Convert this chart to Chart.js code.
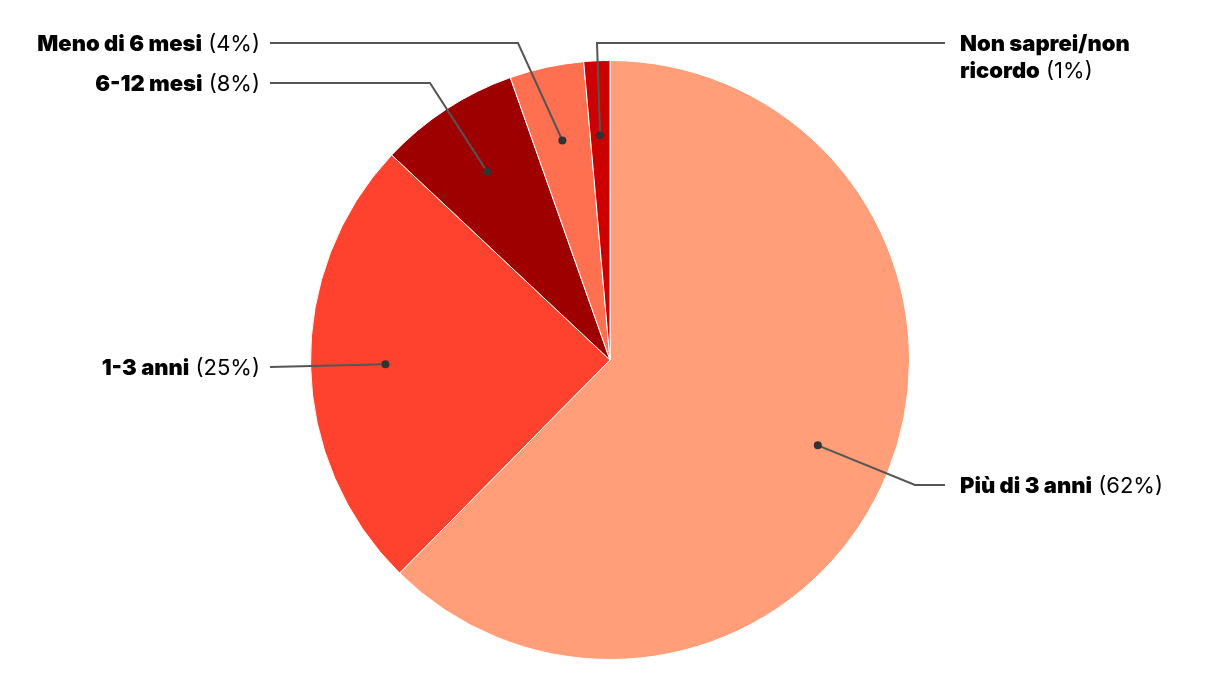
<!DOCTYPE html>
<html>
<head>
<meta charset="utf-8">
<script src="https://cdn.jsdelivr.net/npm/chart.js@4/dist/chart.umd.min.js"></script>
<style>
  html, body { margin: 0; padding: 0; background: #fff; }
  #wrap { width: 1220px; height: 700px; }
</style>
</head>
<body>
<div id="wrap"><canvas id="pie"></canvas></div>
<script>
// Data
const categories = ["Più di 3 anni", "1-3 anni", "6-12 mesi", "Meno di 6 mesi", "Non saprei/non ricordo"];
const values = [62.4, 24.6, 7.6, 4.0, 1.4];
const sliceColors = ["#FF9E78", "#FF422E", "#9E0000", "#FF7050", "#CC0000"];

// Where each label's leader line bends, relative to the pie centre
const labelLayout = [
  { side: "right", elbow: [305, 125], lines: ["Più di 3 anni"] },
  { side: "left", elbow: [-340, 7], lines: ["1-3 anni"] },
  { side: "left", elbow: [-180, -277], lines: ["6-12 mesi"] },
  { side: "left", elbow: [-92, -317], lines: ["Meno di 6 mesi"] },
  { side: "right", elbow: [-13, -317], lines: ["Non saprei/non", "ricordo"] },
];

const FONT = "Inter, 'Noto Sans', sans-serif";

// Draws leader lines, dots and labels outside the pie
const leaderLabels = {
  id: "leaderLabels",
  afterDatasetsDraw(chart) {
    const ctx = chart.ctx;
    const meta = chart.getDatasetMeta(0);
    meta.data.forEach((arc, i) => {
      const { x, y, startAngle, endAngle, outerRadius } = arc.getProps(["x", "y", "startAngle", "endAngle", "outerRadius"], true);
      const mid = (startAngle + endAngle) / 2;
      const dx = x + Math.cos(mid) * outerRadius * 0.75;
      const dy = y + Math.sin(mid) * outerRadius * 0.75;
      const cfg = labelLayout[i];
      const ex = x + cfg.elbow[0];
      const ey = y + cfg.elbow[1];
      const endX = cfg.side === "left" ? x - 340 : x + 335;
      const textX = cfg.side === "left" ? x - 350 : x + 350;

      ctx.save();
      ctx.strokeStyle = "#555";
      ctx.lineWidth = 2;
      ctx.beginPath();
      ctx.moveTo(dx, dy);
      ctx.lineTo(ex, ey);
      ctx.lineTo(endX, ey);
      ctx.stroke();

      ctx.fillStyle = "#333";
      ctx.beginPath();
      ctx.arc(dx, dy, 4, 0, Math.PI * 2);
      ctx.fill();

      // text: bold name, regular percentage on the last line
      const pct = " (" + Math.round(values[i]) + "%)";
      const boldFont = "900 22px " + FONT;
      const normFont = "400 22px " + FONT;
      ctx.fillStyle = "#000";
      ctx.textBaseline = "middle";
      ctx.textAlign = "left";
      cfg.lines.forEach((line, k) => {
        const ly = ey + 1 + k * 27;
        const last = k === cfg.lines.length - 1;
        ctx.font = boldFont;
        const wBold = ctx.measureText(line).width;
        ctx.font = normFont;
        const wPct = last ? ctx.measureText(pct).width : 0;
        const startX = cfg.side === "left" ? textX - wBold - wPct : textX;
        ctx.font = boldFont;
        ctx.fillText(line, startX, ly);
        if (last) {
          ctx.font = normFont;
          ctx.fillText(pct, startX + wBold, ly);
        }
      });
      ctx.restore();
    });
  },
};

new Chart(document.getElementById("pie"), {
  type: "pie",
  data: {
    labels: categories,
    datasets: [{
      data: values,
      backgroundColor: sliceColors,
      borderColor: "#fff",
      borderWidth: 1,
    }],
  },
  options: {
    responsive: true,
    maintainAspectRatio: false,
    animation: false,
    layout: { padding: { top: 60, bottom: 40 } },
    plugins: {
      legend: { display: false },
      tooltip: { enabled: false },
    },
  },
  plugins: [leaderLabels],
});
</script>
</body>
</html>
